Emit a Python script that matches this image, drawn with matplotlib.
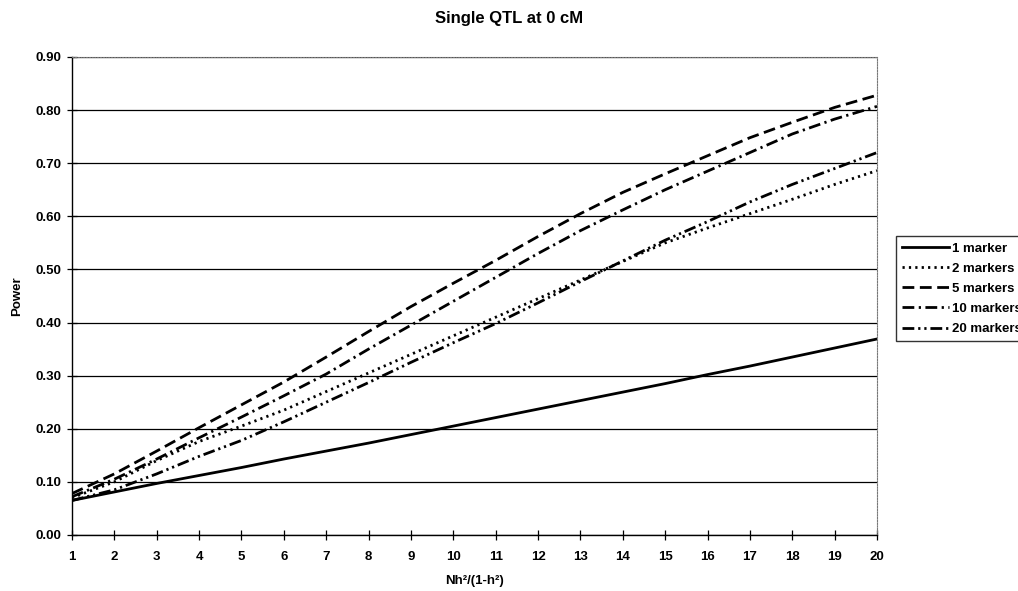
#!/usr/bin/env python3
"""Power curves for a single QTL at 0 cM, by number of markers."""

import matplotlib as mpl
import matplotlib.pyplot as plt

x = list(range(1, 21))

power_1 = [0.065, 0.081, 0.097, 0.112, 0.127, 0.143, 0.158, 0.173, 0.189, 0.205,
           0.221, 0.237, 0.253, 0.269, 0.285, 0.302, 0.318, 0.335, 0.352, 0.369]
power_2 = [0.070, 0.100, 0.140, 0.176, 0.205, 0.235, 0.270, 0.305, 0.340, 0.375,
           0.410, 0.445, 0.480, 0.515, 0.550, 0.578, 0.605, 0.632, 0.660, 0.686]
power_5 = [0.078, 0.115, 0.158, 0.202, 0.245, 0.288, 0.335, 0.383, 0.430, 0.474,
           0.517, 0.562, 0.605, 0.645, 0.680, 0.714, 0.748, 0.777, 0.805, 0.828]
power_10 = [0.072, 0.105, 0.143, 0.183, 0.222, 0.262, 0.303, 0.350, 0.395, 0.440,
            0.485, 0.530, 0.573, 0.612, 0.650, 0.685, 0.720, 0.755, 0.783, 0.807]
power_20 = [0.065, 0.085, 0.115, 0.148, 0.178, 0.213, 0.250, 0.287, 0.325, 0.362,
            0.398, 0.437, 0.477, 0.516, 0.555, 0.590, 0.627, 0.660, 0.690, 0.720]

labels = ["1 marker", "2 markers", "5 markers", "10 markers", "20 markers"]
series = [power_1, power_2, power_5, power_10, power_20]
styles = [
    "-",
    (0, (1.6, 3.0)),
    (0, (8.5, 4.0)),
    (0, (8.5, 3.2, 1.6, 3.2)),
    (0, (8.5, 2.8, 1.6, 2.8, 1.6, 2.8)),
]

mpl.rcParams.update(
    {
        "font.family": "sans-serif",
        "font.sans-serif": ["Liberation Sans", "DejaVu Sans"],
        "font.weight": "bold",
        "lines.scale_dashes": False,
    }
)

fig = plt.figure(figsize=(10.18, 5.91), dpi=100)
ax = fig.add_axes([0.0707, 0.0948, 0.7908, 0.8088])

for values, style, label in zip(series, styles, labels):
    ax.plot(x, values, color="black", linestyle=style, linewidth=2.0, label=label)

ax.set_xlim(1, 20)
ax.set_ylim(0, 0.9)
ax.set_xticks(x)
ax.set_yticks([i / 10 for i in range(10)])
ax.set_yticklabels([f"{i / 10:.2f}" for i in range(10)])
ax.yaxis.grid(True, color="black", linewidth=0.9)
ax.set_axisbelow(True)
ax.tick_params(direction="inout", length=7, width=0.9, labelsize=9.5)
ax.tick_params(axis="x", pad=8)
ax.tick_params(axis="y", pad=4)
for name in ("top", "right"):
    ax.spines[name].set_color("#777777")
    ax.spines[name].set_linestyle((0, (1, 1)))
for name in ("left", "bottom"):
    ax.spines[name].set_linewidth(1.0)

ax.set_xlabel("Nh²/(1-h²)", fontsize=9.5, fontweight="bold", labelpad=9)
ax.set_ylabel("Power", fontsize=9.5, fontweight="bold", labelpad=9)
fig.text(0.5, 0.968, "Single QTL at 0 cM", ha="center", va="center",
         fontsize=12, fontweight="bold")

leg = fig.legend(
    loc="upper left",
    bbox_to_anchor=(0.880, 0.600),
    frameon=True,
    fancybox=False,
    edgecolor="black",
    fontsize=9.5,
    handlelength=3.6,
    handletextpad=0.2,
    labelspacing=0.6,
    borderpad=0.45,
    borderaxespad=0,
)
leg.get_frame().set_linewidth(1.0)

fig.savefig("out.png", dpi=100)
